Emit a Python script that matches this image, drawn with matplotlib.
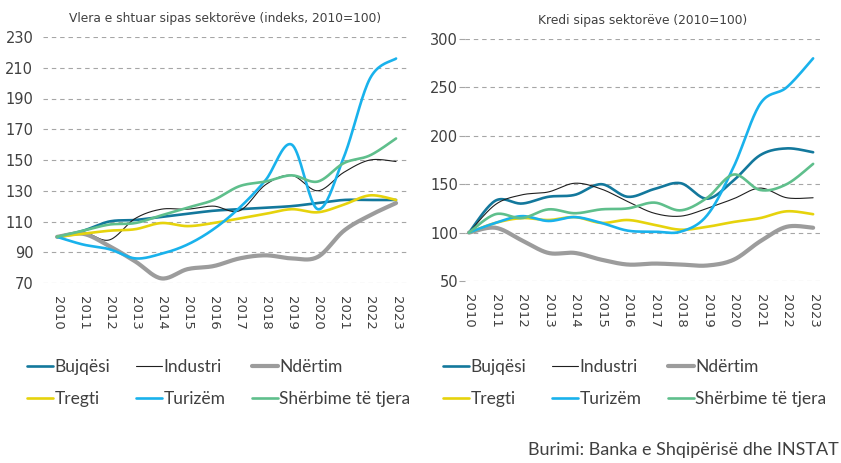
"""
Vlera e shtuar dhe kredi sipas sektorëve (indeks, 2010=100), dy panele me vija të zbutura.
"""
import matplotlib
matplotlib.use("Agg")
import matplotlib.pyplot as plt
import numpy as np

YEARS = [str(y) for y in range(2010, 2024)]
SERIES = ["Bujqësi", "Industri", "Ndërtim", "Tregti", "Turizëm", "Shërbime të tjera"]

# Vlera e shtuar (majtas)
va_bujqesi = [100, 104, 110, 111, 113, 115, 117, 118, 119, 120, 122, 124, 124, 124]
va_industri = [100, 103, 98, 112, 118, 118, 120, 117, 134, 140, 130, 142, 150, 149]
va_ndertim = [100, 102, 94, 84, 73, 79, 81, 86, 88, 86, 87, 104, 114, 122]
va_tregti = [100, 102, 104, 105, 109, 107, 109, 112, 115, 118, 116, 121, 127, 124]
va_turizem = [100, 95, 92, 86, 89, 95, 105, 119, 137, 160, 118, 152, 203, 216]
va_sherbime = [100, 104, 108, 109, 114, 119, 124, 133, 136, 140, 136, 148, 153, 164]

# Kredi (djathtas)
kr_bujqesi = [100, 133, 130, 137, 139, 150, 137, 145, 151, 135, 154, 180, 187, 183]
kr_industri = [100, 129, 139, 142, 151, 145, 132, 120, 117, 125, 135, 146, 136, 136]
kr_ndertim = [100, 105, 92, 79, 79, 72, 67, 68, 67, 66, 72, 91, 106, 105]
kr_tregti = [100, 110, 115, 113, 116, 110, 113, 108, 103, 106, 111, 115, 122, 119]
kr_turizem = [100, 110, 117, 112, 116, 110, 102, 101, 101, 118, 168, 233, 250, 280]
kr_sherbime = [100, 119, 115, 124, 120, 124, 125, 131, 123, 136, 160, 144, 150, 171]

STYLES = {
    "Bujqësi": {"color": "#13789c", "lw": 1.9},
    "Industri": {"color": "#1f1f1f", "lw": 0.8},
    "Ndërtim": {"color": "#9c9c9c", "lw": 3.0},
    "Tregti": {"color": "#e6d30c", "lw": 1.9},
    "Turizëm": {"color": "#19b2ec", "lw": 1.9},
    "Shërbime të tjera": {"color": "#5fbf8c", "lw": 1.9},
}

TEXT_COLOR = "#404040"
GRID_COLOR = "#a6a6a6"
LEGEND_FONT = ["Lato", "DejaVu Sans"]


def smooth(x, y, n=20):
    """Catmull-Rom curve through the points (like Excel's smoothed line)."""
    p = np.column_stack([x, y]).astype(float)
    p = np.vstack([p[0], p, p[-1]])
    out = []
    t = np.linspace(0, 1, n, endpoint=False)[:, None]
    for i in range(1, len(p) - 2):
        p0, p1, p2, p3 = p[i - 1], p[i], p[i + 1], p[i + 2]
        seg = 0.5 * ((2 * p1) + (-p0 + p2) * t
                     + (2 * p0 - 5 * p1 + 4 * p2 - p3) * t ** 2
                     + (-p0 + 3 * p1 - 3 * p2 + p3) * t ** 3)
        out.append(seg)
    out.append(p[-2][None, :])
    s = np.vstack(out)
    return s[:, 0], s[:, 1]


def draw_panel(ax, data, title, yticks, xlim, tick_marks):
    x = np.arange(len(YEARS))
    handles = {}
    for name, vals in zip(SERIES, data):
        st = STYLES[name]
        sx, sy = smooth(x, vals)
        handles[name], = ax.plot(sx, sy, color=st["color"], linewidth=st["lw"],
                                 solid_capstyle="round", label=name)
    ax.set_xlim(*xlim)
    ax.set_ylim(yticks[0], yticks[-1])
    ax.set_yticks(yticks)
    ax.set_xticks(x)
    ax.set_xticklabels(YEARS, rotation=270, fontsize=9.5, color=TEXT_COLOR)
    ax.tick_params(axis="x", length=0, pad=9)
    if tick_marks:
        ax.tick_params(axis="y", length=4, width=0.8, color=GRID_COLOR, pad=1,
                       labelsize=10.5, labelcolor=TEXT_COLOR)
    else:
        ax.tick_params(axis="y", length=0, pad=7, labelsize=10.5, labelcolor=TEXT_COLOR)
    for sp in ax.spines.values():
        sp.set_visible(False)
    ax.grid(True, axis="y", color=GRID_COLOR, linewidth=0.8, linestyle=(0, (4, 3.5)))
    ax.set_axisbelow(True)
    ax.set_title(title, fontsize=8.8, color=TEXT_COLOR, pad=11)
    return handles


def add_legend(fig, handles, x0):
    order = ["Bujqësi", "Tregti", "Industri", "Turizëm", "Ndërtim", "Shërbime të tjera"]
    fig.legend([handles[k] for k in order], order, ncol=3,
               loc="upper left", bbox_to_anchor=(x0, 1 - 359 / 463),
               frameon=False, handlelength=1.5, handletextpad=0.08,
               columnspacing=1.5, labelspacing=0.95, borderpad=0, borderaxespad=0,
               prop={"family": LEGEND_FONT, "size": 12.5}, labelcolor=TEXT_COLOR)


def main():
    fig = plt.figure(figsize=(8.41, 4.63), dpi=100)
    ax1 = fig.add_axes([43 / 841, 1 - 283 / 463, 364 / 841, 246 / 463])
    ax2 = fig.add_axes([465 / 841, 1 - 281 / 463, 355 / 841, 242 / 463])

    h1 = draw_panel(ax1, [va_bujqesi, va_industri, va_ndertim, va_tregti, va_turizem, va_sherbime],
                    "Vlera e shtuar sipas sektorëve (indeks, 2010=100)",
                    list(range(70, 231, 20)), (-0.54, 13.42), False)
    h2 = draw_panel(ax2, [kr_bujqesi, kr_industri, kr_ndertim, kr_tregti, kr_turizem, kr_sherbime],
                    "Kredi sipas sektorëve (2010=100)",
                    list(range(50, 301, 50)), (-0.15, 13.26), True)

    add_legend(fig, h1, 27 / 841)
    add_legend(fig, h2, 443 / 841)

    fig.text(839 / 841, 1 - 450 / 463, "Burimi: Banka e Shqipërisë dhe INSTAT",
             ha="right", va="center", fontsize=13, family=LEGEND_FONT, color=TEXT_COLOR)

    fig.savefig("out.png", dpi=100)
    plt.close(fig)


if __name__ == "__main__":
    main()
